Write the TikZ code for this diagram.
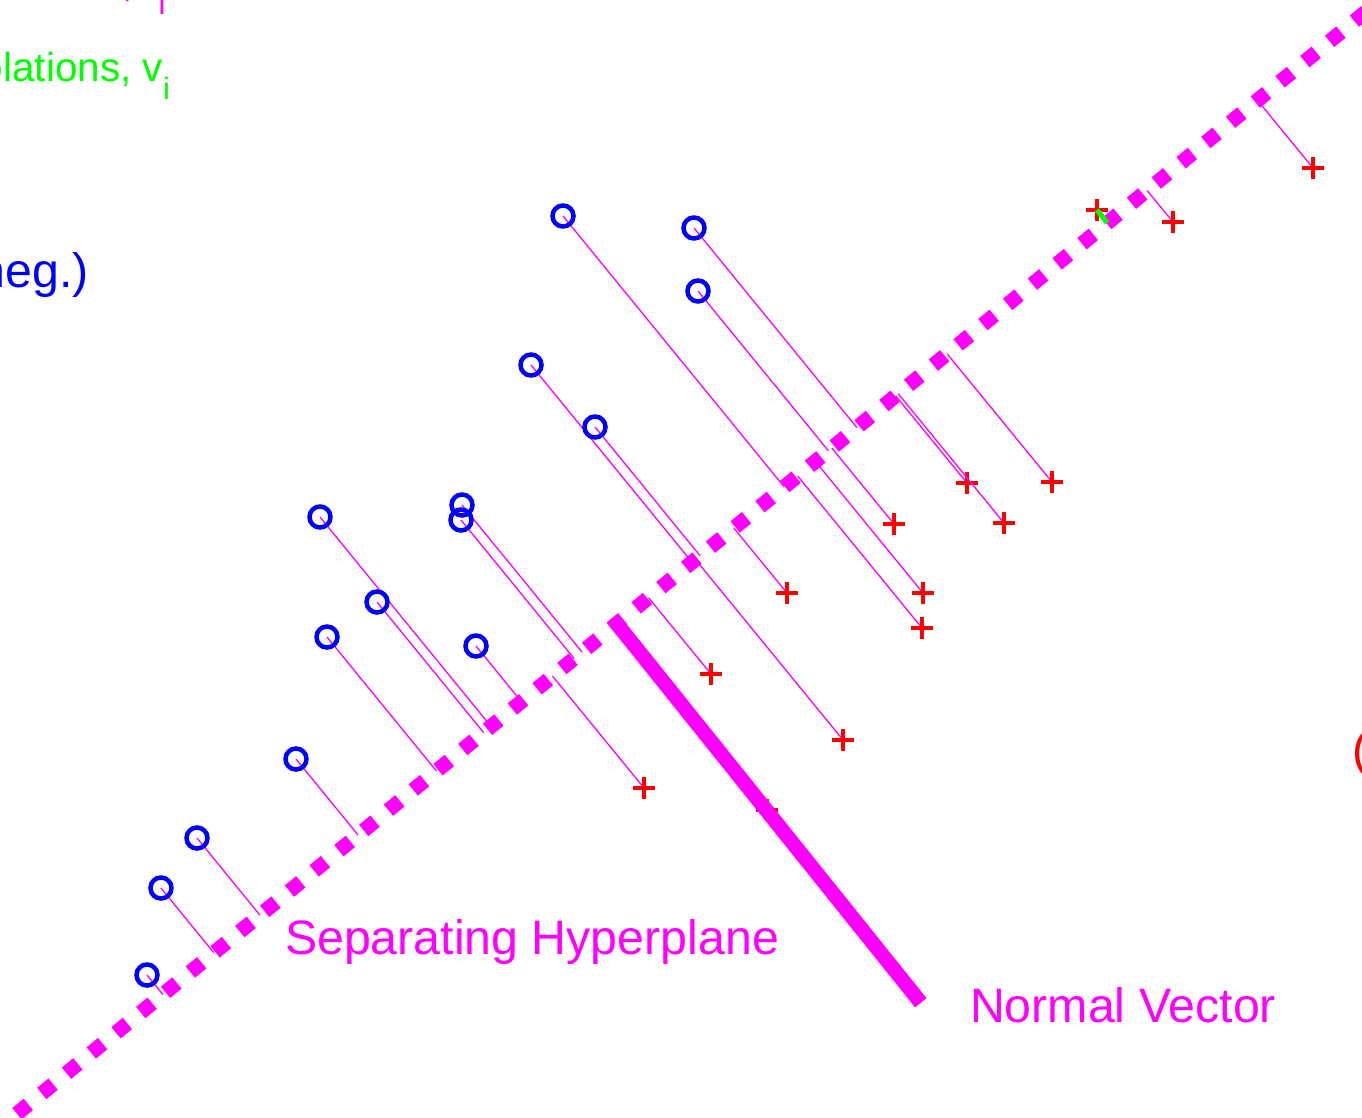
\documentclass[tikz,border=0pt]{standalone}
\usepackage{fontspec}
\setmainfont{Liberation Sans}
\usetikzlibrary{calc}

\definecolor{svmmag}{RGB}{255,0,255}
\definecolor{svmblue}{RGB}{0,0,255}
\definecolor{svmred}{RGB}{255,0,0}
\definecolor{svmgreen}{RGB}{0,255,0}
\newcommand{\lblfont}{\fontsize{48.3}{58}\selectfont}
\newcommand{\legfont}{\fontsize{40.5}{50}\selectfont}
\newcommand{\subi}{\raisebox{-18pt}{\fontsize{31}{36}\selectfont i}}

\begin{document}
\begin{tikzpicture}[x=1pt, y=-1pt,
  every node/.style={inner sep=0pt, outer sep=0pt, font=\lblfont},
  negpt/.style={draw=svmblue, circle, line width=4.5pt, minimum size=21pt},
  pospt/.style={svmred, line width=4.5pt},
  distline/.style={svmmag, line width=1.3pt},
  hyper/.style={svmmag, line width=14.7pt, dash pattern=on 14.7pt off 17.28pt},
  normvec/.style={svmmag, line width=14.7pt},
  violine/.style={svmgreen, line width=5pt},
]
  \useasboundingbox (0,0) rectangle (1362,1118);
  \clip (0,0) rectangle (1362,1118);

  % hyperplane end points
  \coordinate (h1) at (-7.8,1133.9);
  \coordinate (h2) at (1384.9,-3.8);

  % negative class
  \foreach \x/\y [count=\k] in {563/216, 694/228, 698/291, 531/365, 595/427,
      462/505, 461/520, 320/517, 377/602, 327/637, 476/646, 296/759,
      197/838, 161/888, 147/975} {
    \draw[distline] (\x,\y) -- ($(h1)!(\x,\y)!(h2)$);
    \node[negpt] (n\k) at (\x,\y) {};
  }

  % positive class
  \foreach \x/\y [count=\k] in {1313/168, 1173/222, 1052/482, 967/483,
      1004/523, 894/524, 923/593, 922/628, 787/593, 711/674, 843/740,
      644/788, 767/810} {
    \coordinate (p\k) at (\x,\y);
    \draw[distline] (p\k) -- ($(h1)!(p\k)!(h2)$);
    \draw[pospt] ($(p\k)+(-10.8,0)$) -- ($(p\k)+(10.8,0)$)
                 ($(p\k)+(0,-10.8)$) -- ($(p\k)+(0,10.8)$);
  }

  % violating point
  \coordinate (viol) at (1097,210);
  \draw[pospt] ($(viol)+(-10.8,0)$) -- ($(viol)+(10.8,0)$)
               ($(viol)+(0,-10.8)$) -- ($(viol)+(0,10.8)$);

  \draw[hyper] (h1) -- (h2);

  \coordinate (nv1) at (612.5,618.3);
  \coordinate (nv2) at (920.8,1002.8);
  \draw[normvec] (nv1) -- (nv2);

  \draw[violine] (viol) -- ($(h1)!(viol)!(h2)$);

  % labels
  \node[anchor=base west, text=svmmag] (hyplbl) at (285,954) {Separating Hyperplane};
  \node[anchor=base west, text=svmmag] (nvlbl) at (970,1022) {Normal Vector};
  \node[anchor=base east, text=svmmag, font=\legfont] (distlbl) at (165.5,-3.5) {Distances, r\subi};
  \node[anchor=base east, text=svmgreen, font=\legfont] (violbl) at (170,82) {Violations, v\subi};
  \node[anchor=base east, text=svmblue] (neglbl) at (89,287) {Class 2 (neg.)};
  \node[anchor=base west, text=svmred] (poslbl) at (1352,766) {(pos.)};
\end{tikzpicture}
\end{document}
